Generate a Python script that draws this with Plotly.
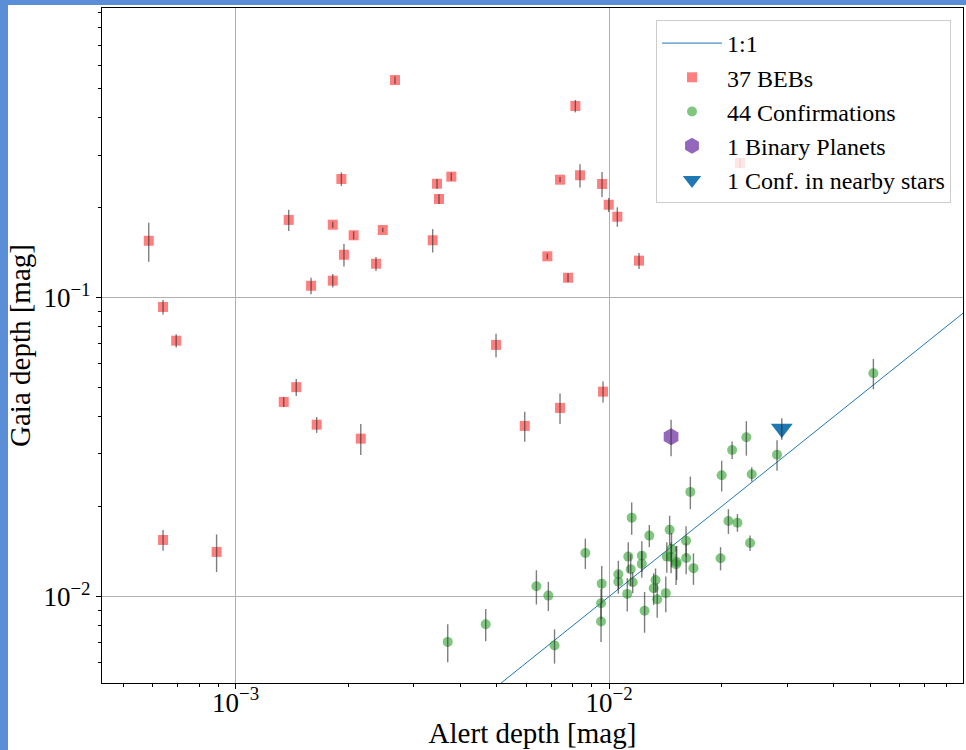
import numpy as np
import plotly.graph_objects as go

# ---------------- data ----------------
beb_x = [5.85e-4, 6.39e-4, 6.93e-4, 6.39e-4, 8.89e-4, 1.387e-3, 1.345e-3, 1.453e-3, 1.592e-3,
         1.648e-3, 1.820e-3, 1.820e-3, 1.919e-3, 1.950e-3, 2.070e-3, 2.163e-3, 2.376e-3, 2.477e-3,
         2.671e-3, 3.370e-3, 3.461e-3, 3.504e-3, 3.781e-3, 4.981e-3, 5.946e-3, 6.835e-3, 7.391e-3,
         7.391e-3, 7.766e-3, 8.124e-3, 8.362e-3, 9.578e-3, 9.636e-3, 9.980e-3, 1.0525e-2, 1.203e-2,
         2.243e-2]
beb_y = [0.155, 0.0931, 0.0718, 0.01547, 0.01411, 0.182, 0.0448, 0.0502, 0.1096,
         0.0376, 0.1754, 0.114, 0.2495, 0.1392, 0.1617, 0.03376, 0.1299, 0.1684,
         0.5346, 0.1556, 0.2405, 0.2138, 0.2540, 0.0695, 0.03724, 0.1375, 0.04277,
         0.2481, 0.1166, 0.4377, 0.2567, 0.2401, 0.04849, 0.2046, 0.1866, 0.1330,
         0.2822]
beb_err = [0.023, 0.0052, 0.0037, 0.00123, 0.00203, 0.015, 0.0017, 0.0033, 0.007,
           0.0023, 0.004, 0.0059, 0.013, 0.0121, 0.005, 0.0040, 0.007, 0.003,
           0.016, 0.014, 0.009, 0.008, 0.008, 0.0063, 0.0043, 0.003, 0.005,
           0.005, 0.004, 0.021, 0.023, 0.023, 0.0039, 0.011, 0.014, 0.0082,
           0.01]

conf_x = [3.698e-3, 4.674e-3, 6.389e-3, 6.878e-3, 7.145e-3, 8.640e-3, 9.559e-3, 9.519e-3, 9.519e-3,
          1.150e-2, 1.126e-2, 1.059e-2, 1.059e-2, 1.143e-2, 1.157e-2, 1.119e-2, 1.224e-2, 1.224e-2,
          1.282e-2, 1.332e-2, 1.317e-2, 1.346e-2, 1.419e-2, 1.453e-2, 1.428e-2, 1.470e-2, 1.466e-2,
          1.512e-2, 1.518e-2, 1.608e-2, 1.609e-2, 1.683e-2, 1.651e-2, 1.989e-2, 5.105e-2, 2.818e-2,
          2.332e-2, 2.136e-2, 2.411e-2, 2.003e-2, 2.088e-2, 2.207e-2, 2.386e-2, 1.245e-2]
conf_y = [7.056e-3, 8.087e-3, 1.083e-2, 1.0077e-2, 6.868e-3, 1.400e-2, 1.105e-2, 9.504e-3, 8.25e-3,
          1.837e-2, 1.361e-2, 1.188e-2, 1.122e-2, 1.235e-2, 1.117e-2, 1.021e-2, 1.371e-2, 1.287e-2,
          1.600e-2, 1.137e-2, 1.067e-2, 9.79e-3, 1.027e-2, 1.674e-2, 1.361e-2, 1.443e-2, 1.358e-2,
          1.284e-2, 1.306e-2, 1.539e-2, 1.347e-2, 1.245e-2, 2.240e-2, 1.344e-2, 5.587e-2, 2.985e-2,
          3.412e-2, 3.095e-2, 2.566e-2, 2.547e-2, 1.791e-2, 1.768e-2, 1.512e-2, 8.97e-3]
conf_err = [0.00103, 0.0010, 0.00142, 0.00113, 0.0009, 0.00162, 0.0016, 0.0011, 0.0012,
            0.00226, 0.0016, 0.0013, 0.0010, 0.0015, 0.0009, 0.0013, 0.0016, 0.0013,
            0.00136, 0.00105, 0.0013, 0.0013, 0.0014, 0.0019, 0.0016, 0.0019, 0.0016,
            0.0019, 0.0017, 0.0018, 0.0016, 0.0015, 0.0028, 0.0012, 0.0065, 0.0035,
            0.0045, 0.0021, 0.0014, 0.0030, 0.0017, 0.0012, 0.0009, 0.0014]

bp_x = [1.466e-2]
bp_y = [3.428e-2]
bp_err = [0.0048]

near_x = [2.902e-2]
near_y = [3.650e-2]
near_err = [0.003]

one_to_one = [1e-3, 1e-1]

x_tickvals = [1e-3, 1e-2]
x_ticktext = ["10<sup>−3</sup>", "10<sup>−2</sup>"]
y_tickvals = [1e-2, 1e-1]
y_ticktext = ["10<sup>−2</sup>", "10<sup>−1</sup>"]

# ---------------- figure ----------------
FONT = "Liberation Serif, Times New Roman, serif"
W, H = 966, 750
ML, MR, MT, MB = 102, 3, 8, 67
PW, PH = W - ML - MR, H - MT - MB

err_style = dict(type="data", visible=True, color="rgba(40,40,40,0.6)", thickness=1.4, width=0)

fig = go.Figure()
fig.add_trace(go.Scatter(x=one_to_one, y=one_to_one, mode="lines", name="1:1",
                         line=dict(color="#1f77b4", width=1)))
fig.add_trace(go.Scatter(x=beb_x, y=beb_y, mode="markers", name="37 BEBs",
                         marker=dict(symbol="square", size=10, color="rgba(255,0,0,0.5)",
                                     line=dict(width=0))))
fig.add_trace(go.Scatter(x=conf_x, y=conf_y, mode="markers", name="44 Confirmations",
                         marker=dict(symbol="circle", size=10, color="rgba(44,160,44,0.6)",
                                     line=dict(width=0))))
fig.add_trace(go.Scatter(x=bp_x, y=bp_y, mode="markers", name="1 Binary Planets",
                         marker=dict(symbol="hexagon", size=17, color="#9467bd",
                                     line=dict(width=0))))
fig.add_trace(go.Scatter(x=near_x, y=near_y, mode="markers", name="1 Conf. in nearby stars",
                         marker=dict(symbol="triangle-down", size=19, color="#1f77b4",
                                     line=dict(width=0))))
# error bars on top of markers
for xs, ys, es in [(beb_x, beb_y, beb_err), (conf_x, conf_y, conf_err),
                   (bp_x, bp_y, bp_err), (near_x, near_y, near_err)]:
    fig.add_trace(go.Scatter(x=xs, y=ys, mode="markers", showlegend=False, hoverinfo="skip",
                             marker=dict(size=1, color="rgba(0,0,0,0)"),
                             error_y=dict(array=es, **err_style)))

x_minor = [m * 10.0 ** k for k in (-4, -3, -2) for m in range(2, 10)]
y_minor = [m * 10.0 ** k for k in (-3, -2, -1) for m in range(2, 10)]

axis_common = dict(type="log", showline=True, linecolor="black", linewidth=1.2, mirror=True,
                   ticks="outside", ticklen=5, tickwidth=1.2, tickcolor="black",
                   showgrid=True, gridcolor="#b0b0b0", gridwidth=1, zeroline=False,
                   tickfont=dict(family=FONT, size=27, color="black"),
                   tickmode="array")

fig.update_xaxes(range=[-3.358, -1.052], tickvals=x_tickvals, ticktext=x_ticktext,
                 ticklabelstandoff=-10,
                 minor=dict(tickmode="array", tickvals=x_minor, ticks="outside", ticklen=3,
                            tickwidth=1, tickcolor="black", showgrid=False),
                 title=dict(text="Alert depth [mag]", font=dict(family=FONT, size=29, color="black"),
                            standoff=5),
                 **axis_common)
fig.update_yaxes(range=[-2.289, -0.031], tickvals=y_tickvals, ticktext=y_ticktext,
                 minor=dict(tickmode="array", tickvals=y_minor, ticks="outside", ticklen=3,
                            tickwidth=1, tickcolor="black", showgrid=False),
                 title=dict(text="Gaia depth [mag]", font=dict(family=FONT, size=29, color="black"),
                            standoff=4),
                 **axis_common)

blue = "#5a8ed6"
fig.add_shape(type="rect", xref="paper", yref="paper",
              x0=-ML / PW, x1=-(ML - 8) / PW, y0=-MB / PH, y1=1 + MT / PH,
              fillcolor=blue, line=dict(width=0), layer="above")
fig.add_shape(type="rect", xref="paper", yref="paper",
              x0=-ML / PW, x1=1 + MR / PW, y0=1 + 3 / PH, y1=1 + MT / PH,
              fillcolor=blue, line=dict(width=0), layer="above")

fig.update_layout(
    width=W, height=H,
    margin=dict(l=ML, r=MR, t=MT, b=MB, autoexpand=False),
    paper_bgcolor="white", plot_bgcolor="white",
    font=dict(family=FONT, color="black"),
    showlegend=True,
    legend=dict(x=(951 - ML) / PW, xanchor="right", y=1 - (20 - MT) / PH, yanchor="top",
                bgcolor="rgba(255,255,255,0.8)", bordercolor="#cccccc", borderwidth=1,
                itemwidth=60,
                font=dict(family=FONT, size=24, color="black")),
)

fig.write_html("out.html", config={"displayModeBar": False},
               post_script="document.body.style.margin='0px';")
